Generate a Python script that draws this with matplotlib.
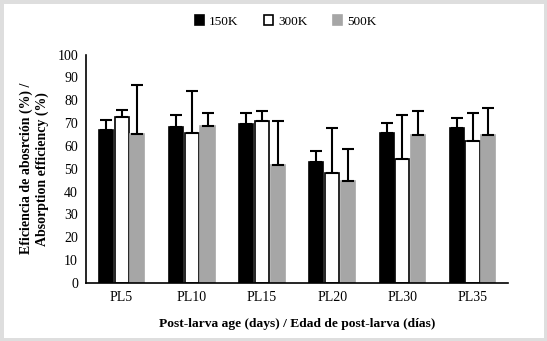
import matplotlib.pyplot as plt
import numpy as np
from matplotlib.patches import Rectangle

plt.rcParams['font.family'] = ['Liberation Serif', 'DejaVu Serif']

# data
stages = ['PL5', 'PL10', 'PL15', 'PL20', 'PL30', 'PL35']
series = ['150K', '300K', '500K']
eff_150 = [67.1, 68.3, 69.6, 53.1, 65.6, 67.8]
eff_300 = [72.5, 65.6, 70.9, 48.2, 54.4, 62.0]
eff_500 = [65.4, 68.9, 51.6, 44.7, 64.6, 64.6]
err_150 = [4.4, 5.2, 4.7, 4.8, 4.4, 4.6]
err_300 = [3.4, 18.3, 4.2, 19.5, 19.3, 12.4]
err_500 = [21.3, 5.5, 19.2, 13.8, 10.5, 11.9]

fig = plt.figure(figsize=(5.47, 3.41), dpi=100)
ax = fig.add_axes([0.158, 0.17, 0.77, 0.67])

x = np.arange(len(stages))
w = 0.2
off = 0.225
styles = [('black', 'black'), ('white', 'black'), ('#a6a6a6', '#a6a6a6')]
vals = [eff_150, eff_300, eff_500]
errs = [err_150, err_300, err_500]
for i, (v, e, name, (fc, ec)) in enumerate(zip(vals, errs, series, styles)):
    ax.bar(x + (i - 1) * off, v, w, color=fc, edgecolor=ec, linewidth=1.2, label=name,
           yerr=[np.zeros(len(e)), e], error_kw=dict(ecolor='black', elinewidth=1.5,
                                                      capsize=4, capthick=1.5))

ax.set_xlim(-0.5, 5.5)
ax.set_ylim(0, 100)
ax.set_yticks(np.arange(0, 101, 10))
ax.set_xticks(x)
ax.set_xticklabels(stages)
ax.tick_params(length=0, labelsize=10, pad=6)
ax.spines['top'].set_visible(False)
ax.spines['right'].set_visible(False)
ax.spines['left'].set_linewidth(1.2)
ax.spines['bottom'].set_linewidth(1.2)

ax.set_ylabel('Eficiencia de abosrción (%) /\nAbsorption efficiency (%)',
              fontsize=10, fontweight='bold', labelpad=6)
ax.set_xlabel('Post-larva age (days) / Edad de post-larva (días)',
              fontsize=9.7, fontweight='bold', labelpad=10)

ax.legend(loc='center', bbox_to_anchor=(0.473, 1.145), ncol=3, frameon=False,
          fontsize=9.5, handlelength=0.7, handleheight=0.7, columnspacing=1.9,
          handletextpad=0.4)

fig.patches.append(Rectangle((0, 0), 1, 1, transform=fig.transFigure, fill=False,
                             edgecolor='#dedede', linewidth=5))

fig.savefig('out.png', dpi=100)
